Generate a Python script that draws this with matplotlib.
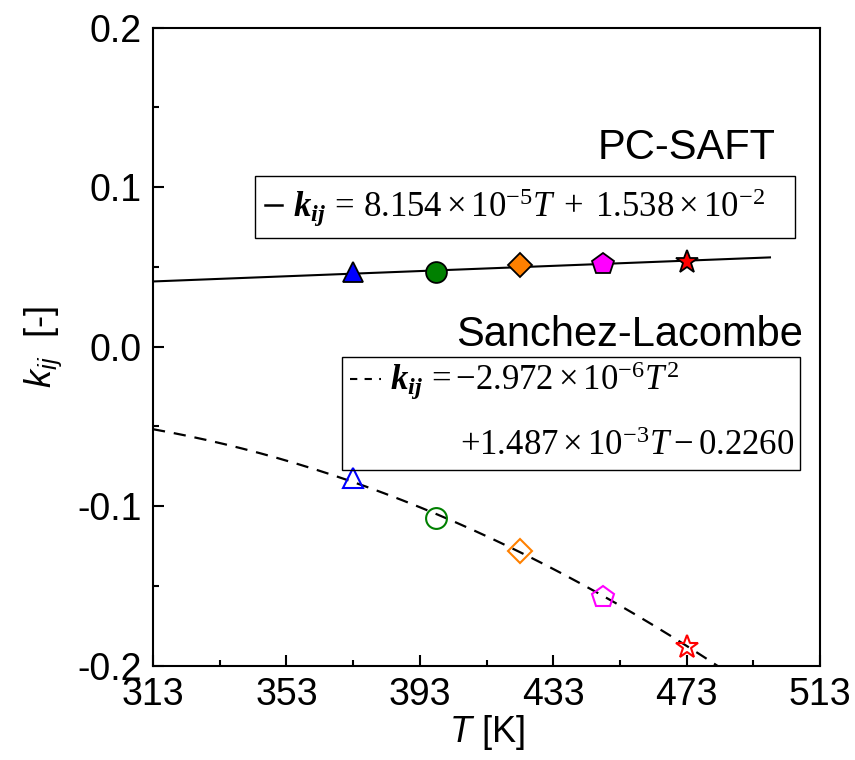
import numpy as np
import matplotlib
matplotlib.use("Agg")
import matplotlib.pyplot as plt
from matplotlib.patches import Rectangle
from matplotlib.ticker import MultipleLocator, FixedLocator, FuncFormatter

plt.rcParams['font.family'] = ['Liberation Sans', 'DejaVu Sans']
plt.rcParams['mathtext.fontset'] = 'custom'
plt.rcParams['mathtext.rm'] = 'Liberation Serif'
plt.rcParams['mathtext.it'] = 'Liberation Serif:italic'
plt.rcParams['mathtext.bf'] = 'Liberation Serif:bold:italic'
plt.rcParams['mathtext.sf'] = 'Liberation Sans:italic'

# temperatures of the fitted kij points [K]
T_pts = [373, 398, 423, 448, 473]
kij_pcsaft = [0.047, 0.047, 0.051, 0.052, 0.053]
kij_sl = [-0.0825, -0.1076, -0.1279, -0.1567, -0.1881]
markers = ['^', 'o', 'D', 'p', '*']
colors = ['#0000ff', '#008000', '#ff8000', '#ff00ff', '#ff0000']
msizes = [15, 15, 12, 16, 17]

# correlation coefficients
pc_a, pc_b = 8.154e-5, 1.538e-2
sl_a, sl_b, sl_c = -2.972e-6, 1.487e-3, -0.2260

fig = plt.figure(figsize=(8.55, 7.6), dpi=100)
ax = fig.add_axes([153 / 855, 1 - 665.7 / 760, 667 / 855, 638 / 760])

T_line = np.linspace(313, 498, 100)
ax.plot(T_line, pc_a * T_line + pc_b, color='k', lw=1.5, zorder=2)
T_curve = np.linspace(313, 490, 200)
ax.plot(T_curve, sl_a * T_curve**2 + sl_b * T_curve + sl_c, color='k', lw=1.6,
        dashes=(5.5, 4), zorder=2)

for T, k1, k2, m, c, s in zip(T_pts, kij_pcsaft, kij_sl, markers, colors, msizes):
    ax.plot(T, k1, m, ms=s, mfc=c, mec='k', mew=1.3, zorder=3)
    ax.plot(T, k2, m, ms=s, mfc='none', mec=c, mew=1.5, zorder=3)

ax.set_xlim(313, 513)
ax.set_ylim(-0.2, 0.2)
ax.xaxis.set_major_locator(FixedLocator([313, 353, 393, 433, 473, 513]))
ax.xaxis.set_minor_locator(FixedLocator([333, 373, 413, 453, 493]))
ax.yaxis.set_major_locator(MultipleLocator(0.1))
ax.yaxis.set_minor_locator(MultipleLocator(0.05))
ax.yaxis.set_major_formatter(FuncFormatter(
    lambda v, p: '%.1f' % v if abs(v) > 1e-9 else '0.0'))
ax.tick_params(which='both', direction='in', top=False, right=False,
               width=1.5, labelsize=27, pad=8)
ax.tick_params(which='major', length=8)
ax.tick_params(which='minor', length=4.5)
for sp in ax.spines.values():
    sp.set_linewidth(1.5)

ax.set_xlabel(r'$\mathsf{T}$ [K]', fontsize=26, labelpad=0)
ax.set_ylabel(r'$\mathsf{k_{ij}}$  [-]', fontsize=26, labelpad=10)

ax.text(0.934, 0.8115, 'PC-SAFT', transform=ax.transAxes, fontsize=30,
        ha='right', va='center')
ax.text(0.9745, 0.518, 'Sanchez-Lacombe', transform=ax.transAxes, fontsize=30,
        ha='right', va='center')

# equation boxes
eq_size = 25
ax.add_patch(Rectangle((0.153, 0.670), 0.81, 0.0975, transform=ax.transAxes,
                       fill=False, ec='k', lw=1.0, zorder=4))
ax.plot([0.168, 0.193], [0.722, 0.722], transform=ax.transAxes, color='k', lw=1.8)
ax.text(0.21, 0.717,
        r'$\mathbf{k_{ij}}\,=\,8.154\times10^{-5}T\;+\;1.538\times10^{-2}$',
        transform=ax.transAxes, fontsize=eq_size, ha='left', va='center')

ax.add_patch(Rectangle((0.284, 0.3067), 0.6865, 0.177, transform=ax.transAxes,
                       fill=False, ec='k', lw=1.0, zorder=4))
ax.plot([0.296, 0.342], [0.450, 0.450], transform=ax.transAxes, color='k', lw=1.5,
        dashes=(3.5, 3.5))
ax.text(0.355, 0.447, r'$\mathbf{k_{ij}}\,=-2.972\times10^{-6}T^2$',
        transform=ax.transAxes, fontsize=eq_size, ha='left', va='center')
ax.text(0.962, 0.345, r'$+1.487\times10^{-3}T - 0.2260$',
        transform=ax.transAxes, fontsize=eq_size, ha='right', va='center')

fig.savefig('out.png', dpi=100)
